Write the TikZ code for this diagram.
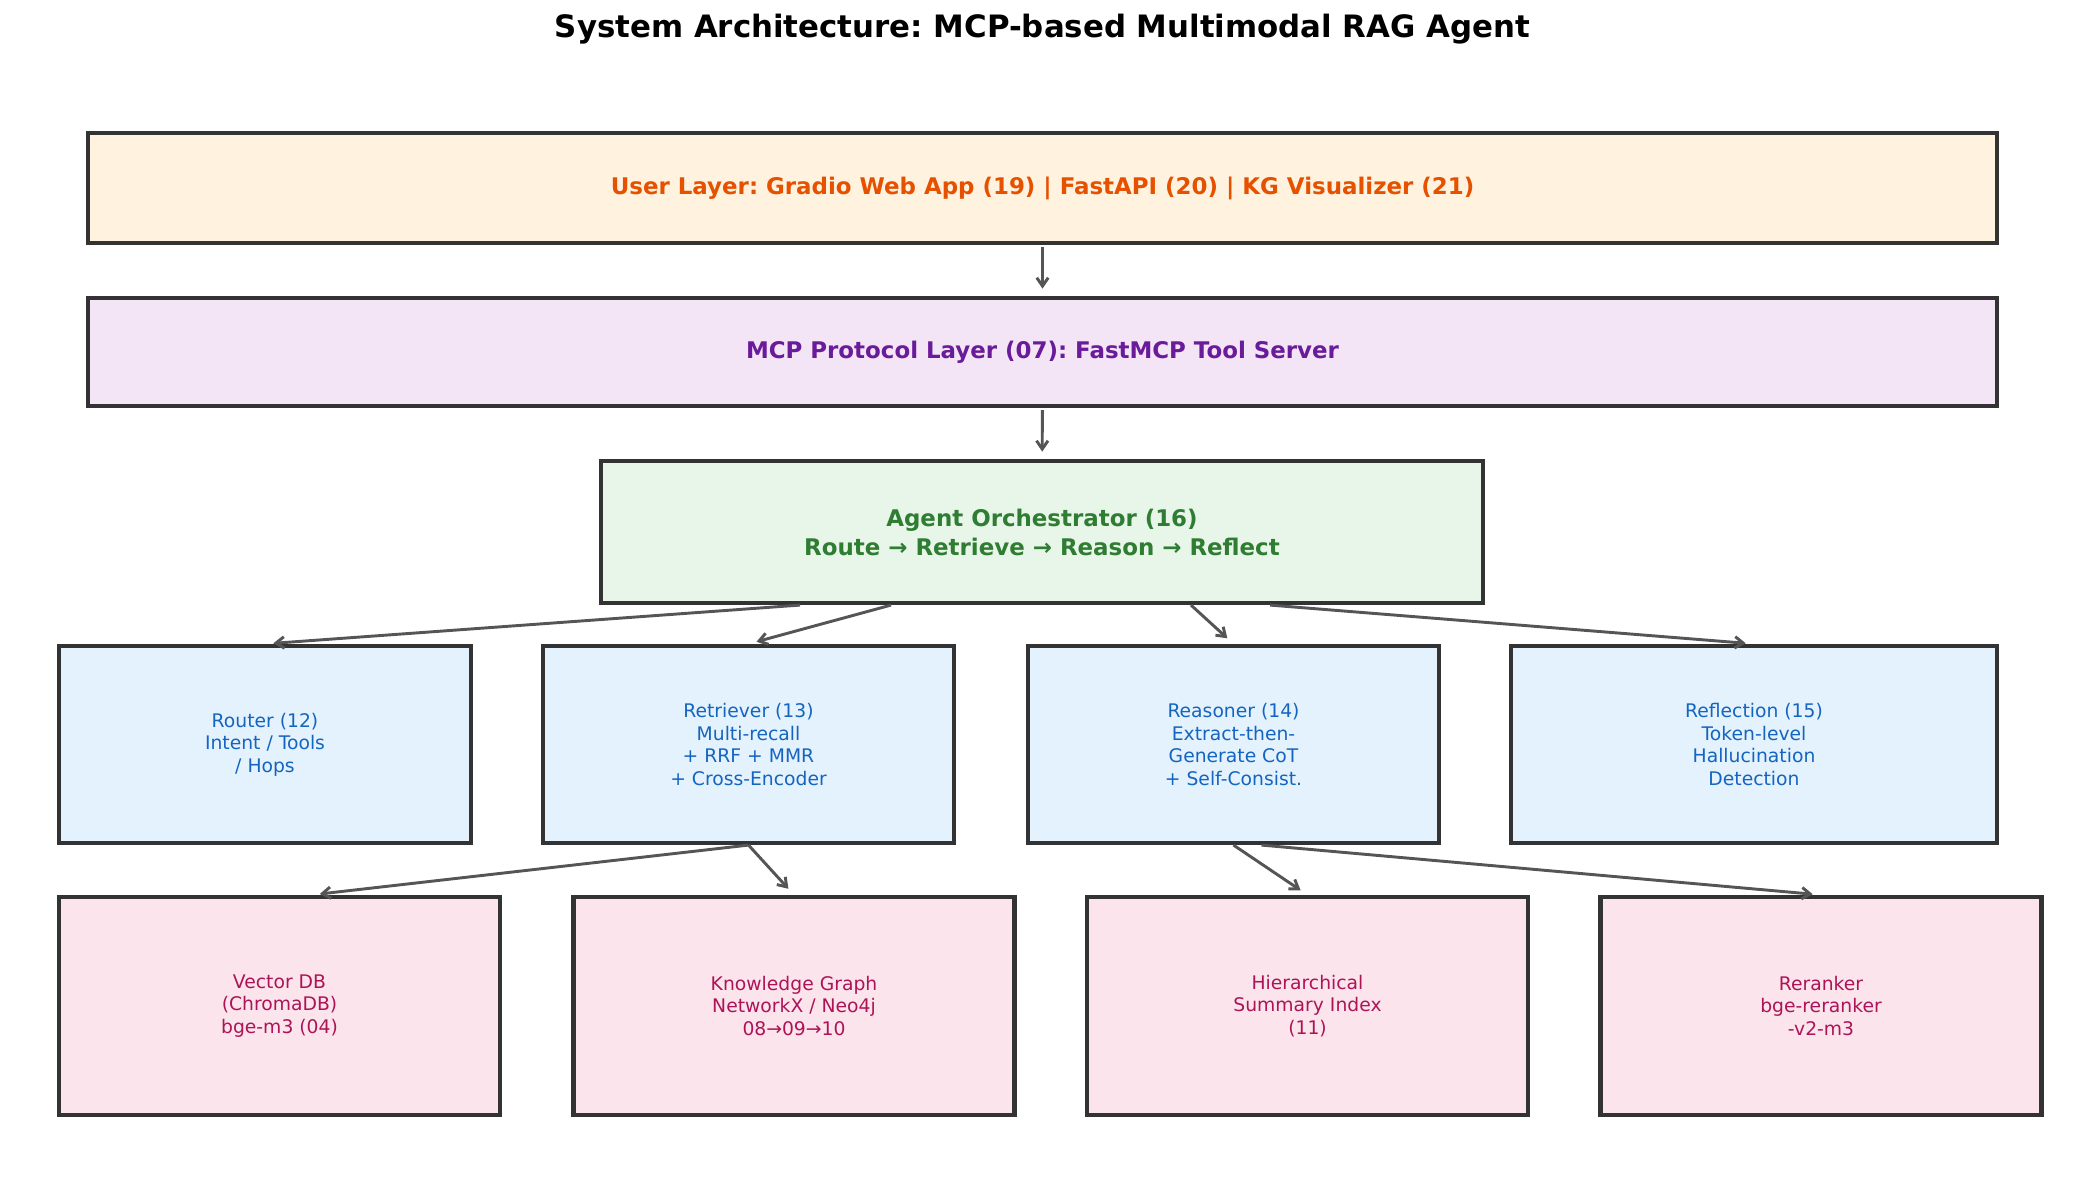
\documentclass[tikz,border=0pt]{standalone}
\usepackage{fontspec}
\setmainfont{DejaVu Sans}
\usetikzlibrary{arrows.meta, calc}
\frenchspacing

\definecolor{edgegray}{HTML}{333333}
\definecolor{arrowgray}{HTML}{555555}
\definecolor{userfill}{HTML}{FFF3E0}
\definecolor{usertext}{HTML}{E65100}
\definecolor{mcpfill}{HTML}{F3E5F5}
\definecolor{mcptext}{HTML}{6A1B9A}
\definecolor{agentfill}{HTML}{E8F5E9}
\definecolor{agenttext}{HTML}{2E7D32}
\definecolor{modfill}{HTML}{E3F2FD}
\definecolor{modtext}{HTML}{1565C0}
\definecolor{storefill}{HTML}{FCE4EC}
\definecolor{storetext}{HTML}{AD1457}

\tikzset{
  base box/.style={
    rectangle,
    draw=edgegray,
    line width=2pt,
    align=center,
    inner sep=0pt
  },
  layer box/.style={
    base box,
    minimum width=1909*0.48pt,
    font=\fontsize{11}{13.9}\selectfont\bfseries
  },
  module box/.style={
    base box,
    fill=modfill,
    text=modtext,
    minimum height=197*0.48pt,
    font=\fontsize{9}{10.8}\selectfont
  },
  store box/.style={
    base box,
    fill=storefill,
    text=storetext,
    minimum width=441*0.48pt,
    minimum height=218*0.48pt,
    font=\fontsize{9}{10.8}\selectfont
  },
  flow/.style={
    -{Straight Barb[length=4pt,width=5.5pt]},
    line width=1.4pt,
    color=arrowgray,
    shorten >=4pt
  }
}

\begin{document}
\begin{tikzpicture}[x=0.48pt, y=-0.48pt]

  \useasboundingbox (0,0) rectangle (2085,1184);

  %% ---- title ----
  \node[font=\fontsize{14.8}{18}\selectfont\bfseries] (title) at (1042.5,29)
      {System Architecture: MCP-based Multimodal RAG Agent};

  %% ---- top layers ----
  \node[layer box, fill=userfill, text=usertext, minimum height=110*0.48pt]
      (user) at (1042.5,188)
      {User Layer: Gradio Web App (19) | FastAPI (20) | KG Visualizer (21)};
  \node[layer box, fill=mcpfill, text=mcptext, minimum height=108*0.48pt]
      (mcp) at (1042.5,352)
      {MCP Protocol Layer (07): FastMCP Tool Server};

  %% ---- orchestrator ----
  \node[layer box, fill=agentfill, text=agenttext,
        minimum width=882*0.48pt, minimum height=142*0.48pt]
      (agent) at (1042,532)
      {Agent Orchestrator (16)\\Route → Retrieve → Reason → Reflect};

  %% ---- agent modules ----
  \node[module box, minimum width=412*0.48pt] (router) at (265,744.5)
      {Router (12)\\Intent / Tools\\/ Hops};
  \node[module box, minimum width=411*0.48pt] (retriever) at (748.5,744.5)
      {Retriever (13)\\Multi-recall\\+ RRF + MMR\\+ Cross-Encoder};
  \node[module box, minimum width=411*0.48pt] (reasoner) at (1233.5,744.5)
      {Reasoner (14)\\Extract-then-\\Generate CoT\\+ Self-Consist.};
  \node[module box, minimum width=486*0.48pt] (reflection) at (1754,744.5)
      {Reflection (15)\\Token-level\\Hallucination\\Detection};

  %% ---- stores ----
  \node[store box] (vectordb) at (279.5,1006)
      {Vector DB\\(ChromaDB)\\bge-m3 (04)};
  \node[store box] (kgraph) at (794,1006)
      {Knowledge Graph\\NetworkX / Neo4j\\08→09→10};
  \node[store box] (summary) at (1307.5,1006)
      {Hierarchical\\Summary Index\\(11)};
  \node[store box] (reranker) at (1821,1006)
      {Reranker\\bge-reranker\\-v2-m3};

  %% ---- arrows ----
  \draw[flow, shorten <=1pt, shorten >=3.5pt] (user) -- (mcp);
  \draw[flow, shorten <=1pt, shorten >=3.5pt] (mcp) -- (agent);

  \draw[flow] ($(agent.south)+(-242,0)$) -- (router.north);
  \draw[flow] ($(agent.south)+(-151,0)$) -- (retriever.north);
  \draw[flow] ($(agent.south)+(149,0)$) -- (reasoner.north);
  \draw[flow] ($(agent.south)+(228,0)$) -- (reflection.north);

  \draw[flow] (retriever.south) -- ($(vectordb.north)+(32,0)$);
  \draw[flow] (retriever.south) -- (kgraph.north);
  \draw[flow] (reasoner.south) -- (summary.north);
  \draw[flow] ($(reasoner.south)+(28,0)$) -- (reranker.north);

\end{tikzpicture}
\end{document}
